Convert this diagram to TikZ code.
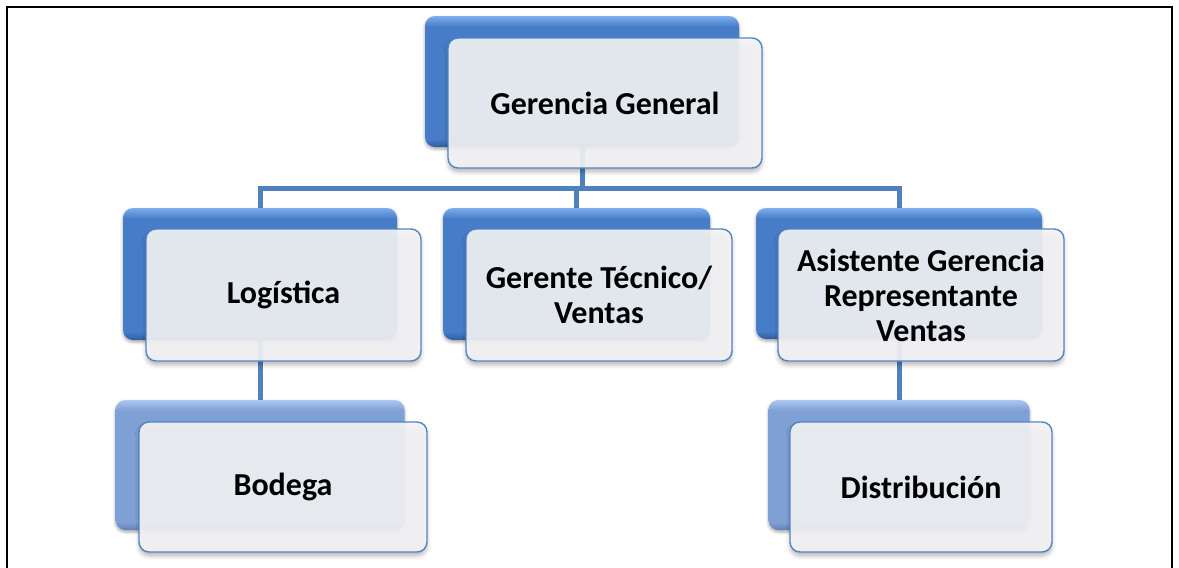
\documentclass[tikz,border=0pt]{standalone}
\usepackage{fontspec}
\setmainfont{Carlito}
\usetikzlibrary{positioning,shadows.blur}

\definecolor{linkblue}{RGB}{79,129,189}
\definecolor{cardline}{RGB}{84,132,192}
\definecolor{cardfill}{RGB}{246,246,248}
\definecolor{bossmid}{RGB}{70,124,200}
\definecolor{bosstop}{RGB}{125,175,238}
\definecolor{bossdark}{RGB}{48,92,160}
\definecolor{staffmid}{RGB}{127,160,212}
\definecolor{stafftop}{RGB}{170,200,240}
\definecolor{staffdark}{RGB}{98,128,182}

\pgfdeclareverticalshading{bossshade}{100bp}{color(0bp)=(bossdark); color(25bp)=(bossdark); color(28bp)=(bossmid); color(71bp)=(bossmid); color(75bp)=(bosstop); color(100bp)=(bosstop)}
\pgfdeclareverticalshading{staffshade}{100bp}{color(0bp)=(staffdark); color(25bp)=(staffdark); color(28bp)=(staffmid); color(71bp)=(staffmid); color(75bp)=(stafftop); color(100bp)=(stafftop)}

\pgfdeclarelayer{background}
\pgfsetlayers{background,main}

\tikzset{
  boss/.style={inner sep=0pt, outer sep=0pt, rounded corners=10pt, shading=bossshade,
    blur shadow={shadow xshift=0pt, shadow yshift=-2pt, shadow blur radius=3pt, shadow opacity=35}},
  staff/.style={inner sep=0pt, outer sep=0pt, rounded corners=10pt, shading=staffshade,
    blur shadow={shadow xshift=0pt, shadow yshift=-2pt, shadow blur radius=3pt, shadow opacity=35}},
  card/.style={inner sep=0pt, outer sep=0pt, draw=cardline, line width=1.4pt, rounded corners=10pt,
    fill=cardfill, fill opacity=0.9, text opacity=1, align=center,
    font=\bfseries\fontsize{32}{35}\selectfont,
    blur shadow={shadow xshift=0pt, shadow yshift=-4pt, shadow blur radius=4pt, shadow opacity=30}},
  link/.style={draw=linkblue, line width=5pt}
}

\begin{document}
\begin{tikzpicture}[x=1pt, y=-1pt]
\useasboundingbox (0,0) rectangle (1179,568);

% frame
\draw[line width=2pt] (7,580) -- (7,7) -- (1172,7) -- (1172,580);

\node[boss, minimum width=314, minimum height=131]  (ggb) at (582,81.5)   {};
\node[card, minimum width=314, minimum height=130]  (gg)  at (605,103)    {Gerencia General};

\node[boss, minimum width=274, minimum height=132]  (logb) at (260,274)   {};
\node[card, minimum width=275, minimum height=132]  (log)  at (283.5,295) {Logística};

\node[boss, minimum width=267, minimum height=132]  (tecb) at (576.5,274) {};
\node[card, minimum width=266, minimum height=132]  (tec)  at (599,295)   {Gerente Técnico/\\Ventas};

\node[boss, minimum width=286, minimum height=131]  (asib) at (899,273.5) {};
\node[card, minimum width=286, minimum height=132]  (asi)  at (921,295)   {Asistente Gerencia\\Representante\\Ventas};

\node[staff, minimum width=289, minimum height=130] (bodb) at (260,465)   {};
\node[card, minimum width=288, minimum height=130]  (bod)  at (283,487)   {Bodega};

\node[staff, minimum width=261, minimum height=130] (disb) at (899,465)   {};
\node[card, minimum width=262, minimum height=130]  (dis)  at (921,487)   {Distribución};

\coordinate (bus) at (0,188);

\begin{pgfonlayer}{background}
\foreach \f/\t in {% boss/subordinate
	 ggb/logb,
	 ggb/tecb,
	 ggb/asib}
	\path[link] (\f.center) -- (\f.center |- bus) -| (\t.center);
\foreach \f/\t in {logb/bodb, asib/disb}
	\path[link] (\f.center) -- (\t.center);
\end{pgfonlayer}

\end{tikzpicture}
\end{document}
